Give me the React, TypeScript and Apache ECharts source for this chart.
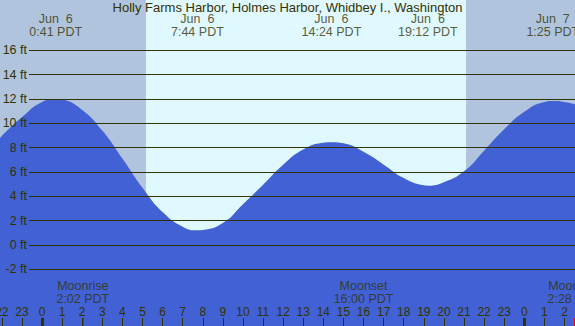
import React, { useEffect, useRef } from "react";
import * as echarts from "echarts";

const TITLE = "Holly Farms Harbor, Holmes Harbor, Whidbey I., Washington";

// tide curve (hours from midnight Jun 6, feet)
const tideTimes = [-3, -2, -1, 0, 0.68, 1, 2, 3, 4, 5, 6, 7, 7.73, 8, 9, 10, 11, 12, 13, 14, 14.4, 15, 16, 17, 18, 19, 19.2, 20, 21, 22, 23, 24, 25, 25.42, 26, 27];
const tideFt = [7.1, 8.95, 10.5, 11.75, 12.0, 11.95, 11.1, 9.4, 7.1, 4.7, 2.7, 1.5, 1.2, 1.23, 1.8, 3.35, 4.95, 6.6, 7.85, 8.4, 8.44, 8.35, 7.65, 6.6, 5.5, 4.9, 4.87, 5.15, 6.05, 7.75, 9.5, 10.95, 11.75, 11.83, 11.75, 11.35];

// high / low tide labels
const extremeTimes = [0.683, 7.733, 14.4, 19.2, 25.417];
const extremeDates = ["Jun  6", "Jun  6", "Jun  6", "Jun  6", "Jun  7"];
const extremeClock = ["0:41 PDT", "7:44 PDT", "14:24 PDT", "19:12 PDT", "1:25 PDT"];

// moon events
const moonTimes = [2.033, 16.0, 26.467];
const moonNames = ["Moonrise", "Moonset", "Moonrise"];
const moonClock = ["2:02 PDT", "16:00 PDT", "2:28 PDT"];

// sun
const sunrise = 5.17;
const sunset = 21.1;
const midnights = [0, 24];

// y gridlines (ft)
const yTicks = [-2, 0, 2, 4, 6, 8, 10, 12, 14, 16];

const X_MIN = -3;
const X_MAX = 27;
const Y_MIN = -6.66;
const Y_MAX = 20.13;

const TEXT = "#333300";
const FONT = "Liberation Sans";

export default function App() {
  const ref = useRef<HTMLDivElement>(null);
  useEffect(() => {
    document.body.style.margin = "0";
    const chart = echarts.init(ref.current!, null, { renderer: "svg" });
    const topLabelY = 18.04;
    const moonLabelY = -3.94;
    const tickTop = -6.0;
    chart.setOption({
      animation: false,
      backgroundColor: "#E0F8FF",
      title: {
        text: TITLE,
        left: "center",
        top: 0,
        padding: 0,
        textStyle: { fontSize: 13, fontWeight: "normal", color: TEXT, fontFamily: FONT, lineHeight: 15 },
      },
      grid: [
        { left: -18.29, right: -9.6, top: 0, bottom: 0, containLabel: false, outerBoundsMode: "none" },
        { left: 29, right: 0, top: 0, bottom: 0, containLabel: false, outerBoundsMode: "none" },
      ],
      xAxis: [
        {
          gridIndex: 0,
          type: "value",
          position: "bottom",
          min: X_MIN,
          max: X_MAX,
          interval: 1,
          z: 10,
          splitLine: { show: false },
          axisLine: { show: false, onZero: false },
          axisTick: { show: true, inside: true, length: 8, lineStyle: { color: TEXT, width: 1 } },
          axisLabel: {
            show: true,
            inside: true,
            margin: 8,
            color: TEXT,
            fontSize: 12,
            fontFamily: FONT,
            hideOverlap: false,
            formatter: (v: number) => String(((v % 24) + 24) % 24),
          },
        },
        { gridIndex: 1, type: "value", min: 0, max: 1, show: false },
      ],
      yAxis: [
        { gridIndex: 0, type: "value", min: Y_MIN, max: Y_MAX, show: false },
        { gridIndex: 1, type: "value", min: Y_MIN, max: Y_MAX, show: false },
      ],
      series: [
        {
          type: "line",
          xAxisIndex: 0,
          yAxisIndex: 0,
          data: [],
          z: 1,
          silent: true,
          markArea: {
            silent: true,
            itemStyle: { color: "#B0C4DE" },
            data: [
              [{ xAxis: X_MIN }, { xAxis: sunrise }],
              [{ xAxis: sunset }, { xAxis: X_MAX }],
            ],
          },
        },
        {
          type: "line",
          xAxisIndex: 0,
          yAxisIndex: 0,
          z: 3,
          smooth: 0.5,
          symbol: "none",
          silent: true,
          lineStyle: { width: 0, color: "#4161D5" },
          areaStyle: { color: "#4161D5", opacity: 1, origin: "start" },
          data: tideTimes.map((t, i) => [t, tideFt[i]]),
        },
        {
          type: "line",
          xAxisIndex: 1,
          yAxisIndex: 1,
          z: 4,
          data: [],
          markLine: {
            silent: true,
            symbol: ["none", "none"],
            lineStyle: { color: TEXT, width: 1, type: "solid" },
            label: {
              show: true,
              position: "start",
              distance: 2,
              color: TEXT,
              fontSize: 12.5,
              fontFamily: FONT,
              formatter: (p: any) => `${p.value} ft`,
            },
            data: yTicks.map((v) => ({ yAxis: v })),
          },
        },
        {
          type: "line",
          xAxisIndex: 0,
          yAxisIndex: 0,
          z: 11,
          data: [],
          markLine: {
            silent: true,
            symbol: ["none", "none"],
            label: { show: false },
            data: [
              ...midnights.map((h) => [
                { coord: [h, Y_MIN], lineStyle: { color: TEXT, width: 3, type: "solid" } },
                { coord: [h, tickTop] },
              ]),
              ...moonTimes.map((h) => [
                { coord: [h, Y_MIN], lineStyle: { color: "#FF0000", width: 1, type: "solid" } },
                { coord: [h, tickTop] },
              ]),
            ],
          },
        },
        {
          type: "scatter",
          xAxisIndex: 0,
          yAxisIndex: 0,
          z: 6,
          silent: true,
          symbolSize: 1,
          itemStyle: { color: "rgba(0,0,0,0)" },
          label: {
            show: true,
            position: "inside",
            color: TEXT,
            fontSize: 12.5,
            fontFamily: FONT,
            lineHeight: 13,
            align: "center",
            verticalAlign: "middle",
          },
          data: [
            ...extremeTimes.map((t, i) => ({
              value: [t, topLabelY],
              label: { formatter: `${extremeDates[i]}\n${extremeClock[i]}` },
            })),
            ...moonTimes.map((t, i) => ({
              value: [t, moonLabelY],
              label: { formatter: `${moonNames[i]}\n${moonClock[i]}` },
            })),
          ],
        },
      ],
    });
    return () => chart.dispose();
  }, []);
  return <div ref={ref} style={{ width: 575, height: 326, position: "absolute", left: 0, top: 0 }} />;
}
